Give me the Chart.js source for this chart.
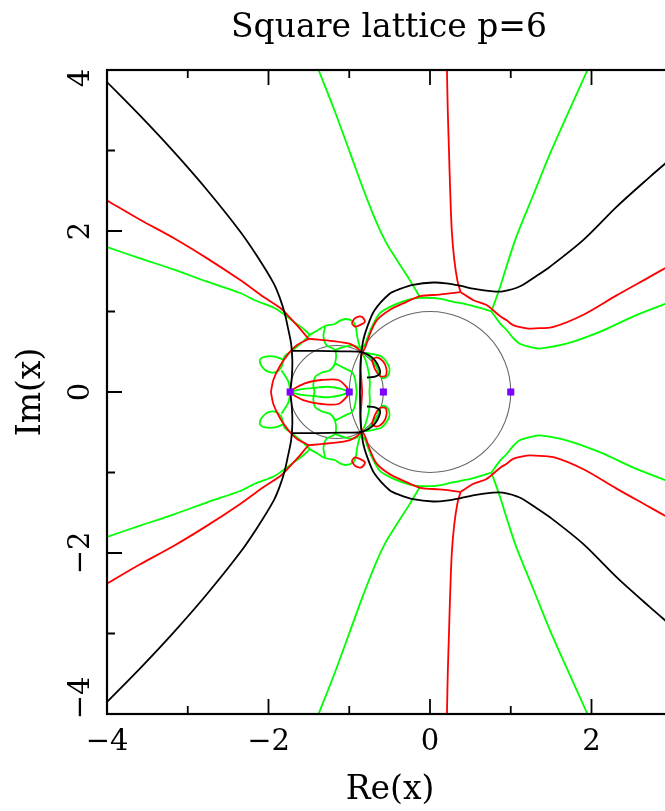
<!DOCTYPE html>
<html>
<head>
<meta charset="utf-8">
<script src="https://cdn.jsdelivr.net/npm/chart.js@4/dist/chart.umd.min.js"></script>
<style>
html,body{margin:0;padding:0;background:#fff;overflow:hidden;}
#wrap{width:780px;height:811px;}
</style>
</head>
<body>
<div id="wrap"><canvas id="c" width="780" height="811"></canvas></div>
<script>
// ---- data (upper half; the plot is symmetric about Im(x)=0) ----
const blackLeft = [[-4,3.85],[-3.587,3.429],[-3.174,2.985],[-2.761,2.509],[-2.349,1.991],[-2.142,1.689],[-1.936,1.35],[-1.86,1.17],[-1.80,0.98],[-1.76,0.80],[-1.72,0.60],[-1.705,0.40],[-1.71,0.20],[-1.73,0]];
const blackBox = [[-1.71,0.51],[-1.40,0.51],[-1.10,0.505],[-0.87,0.50],[-0.76,0.46],[-0.68,0.39],[-0.63,0.30],[-0.62,0.23],[-0.68,0.19],[-0.78,0.18]];
const blackRight = [[-0.867,0],[-0.862,0.30],[-0.85,0.48],[-0.826,0.646],[-0.78,0.80],[-0.69,1.01],[-0.50,1.22],[-0.37,1.28],[-0.21,1.33],[0.04,1.36],[0.20,1.35],[0.37,1.32],[0.55,1.28],[0.78,1.25],[0.90,1.25],[1.11,1.31],[1.30,1.43],[1.49,1.56],[1.90,1.89],[2.31,2.30],[2.72,2.67],[2.95,2.87]];

const redLeft = [[-4,2.38],[-3.59,2.14],[-3.17,1.91],[-2.76,1.66],[-2.35,1.39],[-2.06,1.18],[-1.85,1.04],[-1.75,0.94],[-1.63,0.81],[-1.53,0.69],[-1.50,0.66]];
const redTopLine = [[-1.50,0.66],[-1.38,0.65],[-1.17,0.63],[-1.00,0.60],[-0.92,0.56],[-0.85,0.50]];
const redLeftLoop = [[-1.50,0.66],[-1.65,0.58],[-1.75,0.48],[-1.86,0.32],[-1.94,0.15],[-1.97,0]];
const redInner = [[-1.73,0],[-1.71,0.025],[-1.55,0.108],[-1.34,0.149],[-1.135,0.149],[-1.03,0.058],[-1.0,0]];
const redTop = [[0.21,4],[0.22,3.5],[0.235,3.0],[0.25,2.5],[0.27,2.0],[0.30,1.65],[0.34,1.38],[0.38,1.24]];
const redArc = [[0.38,1.24],[0.12,1.21],[-0.12,1.19],[-0.29,1.12],[-0.50,1.02],[-0.66,0.89],[-0.74,0.73],[-0.80,0.56],[-0.85,0.45],[-0.86,0.30],[-0.85,0.15],[-0.84,0]];
const redRight = [[0.38,1.24],[0.54,1.14],[0.70,1.08],[0.87,0.94],[0.95,0.89],[1.03,0.83],[1.20,0.79],[1.30,0.79],[1.53,0.81],[1.90,0.96],[2.31,1.20],[2.72,1.43],[2.95,1.56]];
const redLoopTop = [[-0.97,0.853],[-0.93,0.915],[-0.85,0.936],[-0.805,0.874],[-0.867,0.832],[-0.93,0.812],[-0.97,0.853]];
const redLoopRight = [[-0.72,0.40],[-0.66,0.43],[-0.58,0.38],[-0.54,0.29],[-0.55,0.20],[-0.62,0.20],[-0.68,0.28],[-0.72,0.40]];

const greenLeft = [[-4,1.80],[-3.59,1.66],[-3.17,1.52],[-2.76,1.37],[-2.35,1.23],[-2.17,1.14],[-1.92,1.04],[-1.71,0.89],[-1.55,0.77],[-1.49,0.71]];
const greenCap = [[-1.49,0.71],[-1.40,0.76],[-1.30,0.82],[-1.18,0.845],[-1.115,0.886],[-1.044,0.907],[-0.962,0.882],[-0.921,0.82],[-0.908,0.73],[-0.888,0.625],[-0.855,0.52]];
const greenLeftDown = [[-1.49,0.71],[-1.58,0.62],[-1.70,0.52],[-1.80,0.45]];
const greenLeftLoop = [[-1.816,0.40],[-1.92,0.44],[-2.04,0.44],[-2.105,0.40],[-2.08,0.315],[-2.0,0.25],[-1.90,0.25],[-1.837,0.315],[-1.816,0.40],[-1.80,0.45]];
const greenToPoint = [[-1.84,0.27],[-1.754,0.128],[-1.73,0]];
const greenMid = [[-1.30,0.81],[-1.32,0.69],[-1.28,0.58],[-1.176,0.52],[-1.176,0.356],[-1.24,0.27],[-1.34,0.24],[-1.42,0.19],[-1.445,0.087],[-1.43,0]];
const greenMid2 = [[-1.176,0.356],[-1.05,0.29],[-0.97,0.25],[-0.93,0.17],[-0.908,0]];
const greenMid3 = [[-1.176,0.52],[-1.07,0.56],[-0.95,0.58],[-0.88,0.55]];
const greenAxis = [[-1.73,0],[-1.62,0.03],[-1.50,0.045],[-1.38,0.058],[-1.27,0.065],[-1.20,0.058],[-1.10,0.04],[-1.0,0]];
const greenArc = [[-0.855,0.52],[-0.80,0.60],[-0.78,0.66],[-0.72,0.81],[-0.62,0.98],[-0.45,1.08],[-0.25,1.15],[-0.12,1.17],[0.12,1.16],[0.29,1.12],[0.45,1.09],[0.60,1.05],[0.76,1.00]];
const greenTopLeft = [[-1.38,4],[-1.18,3.49],[-0.99,2.97],[-0.83,2.53],[-0.66,2.10],[-0.54,1.85],[-0.41,1.64],[-0.25,1.39],[-0.12,1.17]];
const greenTopRight = [[1.95,4],[1.72,3.49],[1.49,2.97],[1.28,2.45],[1.07,1.93],[0.96,1.60],[0.87,1.31],[0.76,1.00]];
const greenRight = [[0.76,1.00],[0.87,0.85],[0.95,0.77],[1.03,0.67],[1.11,0.60],[1.28,0.55],[1.36,0.54],[1.69,0.60],[2.11,0.75],[2.52,0.94],[2.95,1.11]];
const greenDown = [[-0.855,0.52],[-0.80,0.40],[-0.76,0.25],[-0.745,0.12],[-0.75,0]];
const greenLoopRight = [[-0.80,0.49],[-0.70,0.47],[-0.60,0.44],[-0.53,0.36],[-0.50,0.28],[-0.53,0.19],[-0.58,0.17],[-0.63,0.22],[-0.66,0.32],[-0.72,0.40],[-0.80,0.49]];

const markedPoints = [[-1.732,0],[-1.0,0],[-0.577,0],[1.0,0]];
// reference circles: [centreRe, centreIm, radius]
const refCircles = [[0,0,1],[-1.155,0,0.577]];

const xTickValues = [-4,-3,-2,-1,0,1,2,3,4];
const yTickValues = [-4,-3,-2,-1,0,1,2,3,4];
const xTickLabels = {"-4":"\u22124","-2":"\u22122","0":"0","2":"2","4":"4"};
const yTickLabels = {"-4":"\u22124","-2":"\u22122","0":"0","2":"2","4":"4"};

const titleText = "Square lattice p=6";
const xTitle = "Re(x)";
const yTitle = "Im(x)";

// ---- build datasets ----
const BLACK='#000000', RED='#ff0000', GREEN='#00ff00';
const curves = [
  [blackLeft,BLACK],[blackBox,BLACK],[blackRight,BLACK],
  [redLeft,RED],[redTopLine,RED],[redLeftLoop,RED],[redInner,RED],[redTop,RED],[redArc,RED],[redRight,RED],[redLoopTop,RED],[redLoopRight,RED],
  [greenLeft,GREEN],[greenCap,GREEN],[greenLeftDown,GREEN],[greenLeftLoop,GREEN],[greenToPoint,GREEN],[greenMid,GREEN],[greenMid2,GREEN],[greenMid3,GREEN],[greenAxis,GREEN],[greenArc,GREEN],[greenTopLeft,GREEN],[greenTopRight,GREEN],[greenRight,GREEN],[greenDown,GREEN],[greenLoopRight,GREEN]
];
const datasets = [{
  data: markedPoints.map(([x,y])=>({x,y})),
  showLine:false, pointStyle:'rect', pointRadius:5, pointHoverRadius:5,
  backgroundColor:'#8000ff', borderColor:'#8000ff', borderWidth:0
}];
curves.forEach(([pts,col])=>{
  [1,-1].forEach(s=>{
    datasets.push({
      data: pts.map(([x,y])=>({x:x,y:s*y})),
      showLine:true, borderColor:col, borderWidth:1.8, pointRadius:0, pointHoverRadius:0,
      tension:0.3, fill:false
    });
  });
});

const SERIF = "'DejaVu Serif', 'Liberation Serif', serif";

const framePlugin = {
  id:'frame',
  beforeDatasetsDraw(chart){
    const ctx=chart.ctx, xs=chart.scales.x, ys=chart.scales.y, a=chart.chartArea;
    ctx.save();
    ctx.beginPath(); ctx.rect(a.left,a.top,a.right-a.left,a.bottom-a.top); ctx.clip();
    ctx.strokeStyle='#666'; ctx.lineWidth=1.1;
    refCircles.forEach(([cx,cy,r])=>{
      const px=xs.getPixelForValue(cx), py=ys.getPixelForValue(cy);
      const rx=xs.getPixelForValue(cx+r)-px, ry=py-ys.getPixelForValue(cy+r);
      ctx.beginPath(); ctx.ellipse(px,py,rx,ry,0,0,Math.PI*2); ctx.stroke();
    });
    ctx.restore();
  },
  afterDraw(chart){
    const ctx=chart.ctx, xs=chart.scales.x, ys=chart.scales.y, a=chart.chartArea;
    ctx.save();
    ctx.strokeStyle='#000'; ctx.lineWidth=2.2;
    ctx.strokeRect(a.left,a.top,a.right-a.left,a.bottom-a.top);
    ctx.lineWidth=1.8;
    xTickValues.forEach(v=>{
      const px=xs.getPixelForValue(v); const L=(v%2===0)?15:8;
      ctx.beginPath(); ctx.moveTo(px,a.bottom); ctx.lineTo(px,a.bottom-L);
      ctx.moveTo(px,a.top); ctx.lineTo(px,a.top+L); ctx.stroke();
    });
    yTickValues.forEach(v=>{
      const py=ys.getPixelForValue(v); const L=(v%2===0)?15:8;
      ctx.beginPath(); ctx.moveTo(a.left,py); ctx.lineTo(a.left+L,py);
      ctx.moveTo(a.right,py); ctx.lineTo(a.right-L,py); ctx.stroke();
    });
    ctx.fillStyle='#000';
    ctx.font="29px "+SERIF; ctx.textAlign='center'; ctx.textBaseline='middle';
    Object.keys(xTickLabels).forEach(k=>{
      const px=xs.getPixelForValue(+k);
      ctx.fillText(xTickLabels[k],px,a.bottom+28);
    });
    Object.keys(yTickLabels).forEach(k=>{
      let py=ys.getPixelForValue(+k);
      if(+k===4) py+=8; if(+k===-4) py-=16;
      ctx.save(); ctx.translate(a.left-26,py); ctx.rotate(-Math.PI/2);
      ctx.fillText(yTickLabels[k],0,0); ctx.restore();
    });
    ctx.font="33px "+SERIF;
    ctx.fillText(xTitle,390,790);
    ctx.save(); ctx.translate(31,392); ctx.rotate(-Math.PI/2); ctx.fillText(yTitle,0,0); ctx.restore();
    ctx.fillText(titleText,389,28);
    ctx.restore();
  }
};

new Chart(document.getElementById('c'),{
  type:'scatter',
  data:{datasets},
  options:{
    responsive:false, animation:false,
    layout:{padding:{left:107,top:70,right:27,bottom:97}},
    plugins:{legend:{display:false},tooltip:{enabled:false},title:{display:false}},
    scales:{
      x:{type:'linear',min:-4,max:4,display:false},
      y:{type:'linear',min:-4,max:4,display:false}
    }
  },
  plugins:[framePlugin]
});
</script>
</body>
</html>
